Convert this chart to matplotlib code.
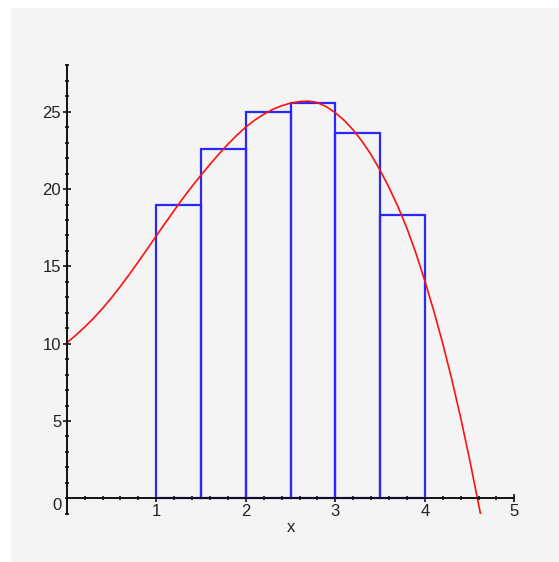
import matplotlib
matplotlib.use('Agg')
import matplotlib.pyplot as plt
from matplotlib.patches import Rectangle
from matplotlib.ticker import MultipleLocator

# histogram classes and heights
bin_edges = [1.0, 1.5, 2.0, 2.5, 3.0, 3.5, 4.0]
bin_heights = [19.0, 22.6, 25.0, 25.6, 23.6, 18.3]

# fitted density curve, sampled every 0.1
curve_x = [0.0, 0.1, 0.2, 0.3, 0.4, 0.5, 0.6, 0.7, 0.8, 0.9,
           1.0, 1.1, 1.2, 1.3, 1.4, 1.5, 1.6, 1.7, 1.8, 1.9,
           2.0, 2.1, 2.2, 2.3, 2.4, 2.5, 2.6, 2.7, 2.8, 2.9,
           3.0, 3.1, 3.2, 3.3, 3.4, 3.5, 3.6, 3.7, 3.8, 3.9,
           4.0, 4.1, 4.2, 4.3, 4.4, 4.5, 4.6, 4.62]
curve_y = [10.05, 10.54, 11.07, 11.65, 12.28, 12.97, 13.71, 14.49, 15.3, 16.13,
           16.97, 17.8, 18.62, 19.42, 20.18, 20.9, 21.6, 22.27, 22.9, 23.48,
           24.01, 24.46, 24.84, 25.15, 25.39, 25.56, 25.66, 25.69, 25.6, 25.33,
           24.94, 24.44, 23.82, 23.08, 22.22, 21.22, 20.1, 18.86, 17.46, 15.86,
           14.06, 12.11, 10.01, 7.71, 5.21, 2.51, -0.39, -0.97]

xticks = [1, 2, 3, 4, 5]
yticks = [5, 10, 15, 20, 25]

W, H = 559, 562
fig = plt.figure(figsize=(W / 100, H / 100), dpi=100, facecolor='white')

# grey plot window background
bg = Rectangle((10.5 / W, 0), 1 - 10.5 / W, 1 - 8 / H,
               transform=fig.transFigure, facecolor='#f4f4f4',
               edgecolor='none', zorder=-10)
fig.add_artist(bg)

ax = fig.add_axes([66.7 / W, 1 - 513.8 / H, (514.4 - 66.7) / W, (513.8 - 65.4) / H])
ax.set_facecolor('none')
ax.set_xlim(0, 5)
ax.set_ylim(-1, 28)

# boxes of the histogram
widths = [bin_edges[i + 1] - bin_edges[i] for i in range(len(bin_heights))]
ax.bar(bin_edges[:-1], bin_heights, width=widths, align='edge', fill=False,
       edgecolor='#2828ff', linewidth=1.6, zorder=2)

ax.plot(curve_x, curve_y, color='#ff1010', linewidth=1.2, zorder=3)

# axes through the origin
for side in ['top', 'right']:
    ax.spines[side].set_visible(False)
ax.spines['left'].set_position(('data', 0))
ax.spines['bottom'].set_position(('data', 0))
for side in ['left', 'bottom']:
    ax.spines[side].set_linewidth(1.4)
    ax.spines[side].set_color('#111111')
    ax.spines[side].set_zorder(4)

ax.set_xticks(xticks)
ax.set_yticks(yticks)
ax.xaxis.set_minor_locator(MultipleLocator(0.2))
ax.yaxis.set_minor_locator(MultipleLocator(1))
ax.tick_params(which='major', direction='inout', length=6, width=1.2,
               color='#111111', labelsize=12, labelcolor='#222222', pad=1)
ax.tick_params(which='minor', direction='inout', length=3, width=1.2, color='#111111')
for lab in ax.get_xticklabels() + ax.get_yticklabels():
    lab.set_family('Liberation Sans')

ax.annotate('0', xy=(0, 0), xytext=(-9.5, -7), textcoords='offset pixels',
            ha='center', va='center', fontsize=12, color='#222222',
            family='Liberation Sans')
fig.text(291 / W, 1 - 527 / H, 'x', ha='center', va='center', fontsize=12,
         color='#222222', family='Liberation Sans')

fig.savefig('out.png', dpi=100, facecolor='white')
